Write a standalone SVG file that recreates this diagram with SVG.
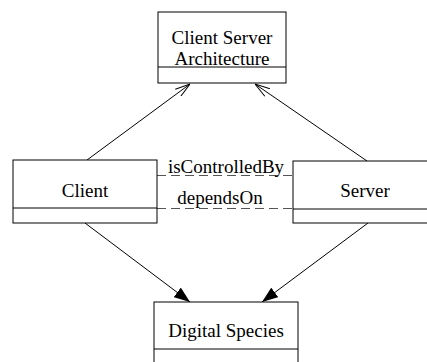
<svg xmlns="http://www.w3.org/2000/svg" width="427" height="362" viewBox="0 0 427 362">
<style>
.box{fill:#fff;stroke:#000;stroke-width:1}
.t{font-family:'Liberation Serif','Times New Roman',Times,serif;font-size:19px;fill:#000;text-anchor:middle}
.edge{stroke:#000;stroke-width:1;fill:none}
.dash{stroke:#555;stroke-width:1;fill:none;stroke-dasharray:9,5}
</style>
<defs>
<marker id="open" viewBox="0 0 15 10" refX="15" refY="5" markerWidth="15" markerHeight="10" markerUnits="userSpaceOnUse" orient="auto">
<path d="M0,0.5 L15,5 L0,9.5" fill="none" stroke="#000" stroke-width="1"/>
</marker>
<marker id="filled" viewBox="0 0 16 12" refX="16" refY="6" markerWidth="16" markerHeight="12" markerUnits="userSpaceOnUse" orient="auto">
<path d="M0,0 L16,6 L0,12 z" fill="#000"/>
</marker>
</defs>
<g id="connectors">
<path class="edge" d="M87,160 L190,84" marker-end="url(#open)"/>
<path class="edge" d="M367,161 L255,84" marker-end="url(#open)"/>
<path class="edge" d="M85,223 L190,302" marker-end="url(#filled)"/>
<path class="edge" d="M368,223 L262,302" marker-end="url(#filled)"/>
<path class="dash" d="M157,175.5 L293,175.5"/>
<path class="dash" d="M157,208.5 L293,208.5"/>
<text class="t" x="226" y="173" font-family="Liberation Serif, serif">isControlledBy</text>
<text class="t" x="220" y="204" font-family="Liberation Serif, serif">dependsOn</text>
</g>
<g id="node-architecture">
<rect class="box" x="158" y="12" width="128" height="71"/>
<line class="edge" x1="158" y1="67" x2="286" y2="67"/>
<text class="t" x="222" y="44" font-family="Liberation Serif, serif">Client Server</text>
<text class="t" x="222" y="65" font-family="Liberation Serif, serif">Architecture</text>
</g>
<g id="node-client">
<rect class="box" x="13" y="160" width="144" height="63"/>
<line class="edge" x1="13" y1="208" x2="157" y2="208"/>
<text class="t" x="85" y="197" font-family="Liberation Serif, serif">Client</text>
</g>
<g id="node-server">
<rect class="box" x="293" y="161" width="144" height="62"/>
<line class="edge" x1="293" y1="209" x2="437" y2="209"/>
<text class="t" x="365" y="197" font-family="Liberation Serif, serif">Server</text>
</g>
<g id="node-digital-species">
<rect class="box" x="154" y="302" width="144" height="70"/>
<line class="edge" x1="154" y1="349" x2="298" y2="349"/>
<text class="t" x="226" y="337" font-family="Liberation Serif, serif">Digital Species</text>
</g>
</svg>
